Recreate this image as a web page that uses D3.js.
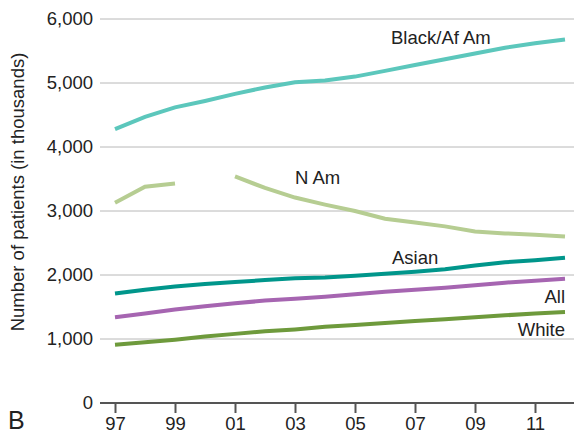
<!DOCTYPE html>
<html>
<head>
<meta charset="utf-8">
<script src="https://cdn.jsdelivr.net/npm/d3@7"></script>
<style>
  body { margin: 0; background: #fff; }
  svg { display: block; font-family: "Liberation Sans", Arial, Helvetica, sans-serif; }
</style>
</head>
<body>
<svg id="chart" width="574" height="433"></svg>
<script>
// Years 1997–2012
const years = [1997, 1998, 1999, 2000, 2001, 2002, 2003, 2004, 2005, 2006, 2007, 2008, 2009, 2010, 2011, 2012];

// Patients (thousands) by group; null = no data reported
const blackAfAm = [4280, 4470, 4620, 4720, 4830, 4930, 5010, 5040, 5100, 5190, 5280, 5370, 5460, 5550, 5620, 5680];
const nativeAm  = [3130, 3380, 3430, null, 3540, 3360, 3210, 3100, 3000, 2880, 2820, 2760, 2680, 2650, 2630, 2600];
const asian     = [1710, 1770, 1820, 1860, 1890, 1920, 1950, 1960, 1990, 2020, 2050, 2090, 2150, 2200, 2230, 2270];
const allPts    = [1340, 1400, 1460, 1510, 1560, 1600, 1630, 1660, 1700, 1740, 1770, 1800, 1840, 1880, 1910, 1940];
const white     = [ 910,  950,  990, 1040, 1080, 1120, 1150, 1190, 1220, 1250, 1280, 1310, 1340, 1370, 1400, 1420];

const yTicks = [0, 1000, 2000, 3000, 4000, 5000, 6000];
const xTicks = [1997, 1999, 2001, 2003, 2005, 2007, 2009, 2011];

const series = [
  { name: "Black/Af Am", values: blackAfAm, color: "#5cc7bc" },
  { name: "N Am",        values: nativeAm,  color: "#b6cd92" },
  { name: "Asian",       values: asian,     color: "#00968b" },
  { name: "All",         values: allPts,    color: "#a665b1" },
  { name: "White",       values: white,     color: "#6e9a3c" }
];

const FS = 18.5;
const svg = d3.select("#chart");
const x = d3.scaleLinear().domain([1997, 2012]).range([115, 565]);
const y = d3.scaleLinear().domain([0, 6000]).range([403, 19]);
const gridLeft = 100, gridRight = 574;

// Horizontal gridlines
svg.append("g").selectAll("line")
  .data(yTicks.filter(d => d > 0))
  .join("line")
  .attr("x1", gridLeft).attr("x2", gridRight)
  .attr("y1", d => y(d)).attr("y2", d => y(d))
  .attr("stroke", "#b8b8b8").attr("stroke-width", 1);

// Y tick labels
svg.append("g").selectAll("text")
  .data(yTicks)
  .join("text")
  .attr("x", 93).attr("y", d => y(d))
  .attr("dy", "0.35em")
  .attr("text-anchor", "end")
  .attr("font-size", FS)
  .attr("fill", "#222")
  .text(d => d3.format(",")(d));

// X axis
const xAxis = d3.axisBottom(x)
  .tickValues(xTicks)
  .tickSize(10)
  .tickPadding(4)
  .tickFormat(d => String(d).slice(2));
const gx = svg.append("g").attr("transform", `translate(0,${y(0)})`).call(xAxis);
gx.select(".domain").remove();
gx.selectAll(".tick line").attr("stroke", "#555").attr("stroke-width", 2);
gx.selectAll(".tick text").attr("font-size", FS).attr("fill", "#222")
  .attr("font-family", "Liberation Sans, Arial, sans-serif");
svg.append("line")
  .attr("x1", gridLeft).attr("x2", gridRight)
  .attr("y1", y(0)).attr("y2", y(0))
  .attr("stroke", "#555").attr("stroke-width", 2);

// Data lines
const line = d3.line()
  .defined(d => d.v != null)
  .x(d => x(d.year))
  .y(d => y(d.v));

svg.append("g").selectAll("path")
  .data(series)
  .join("path")
  .attr("d", s => line(years.map((yr, i) => ({ year: yr, v: s.values[i] }))))
  .attr("fill", "none")
  .attr("stroke", s => s.color)
  .attr("stroke-width", 4);

// Series labels
const labels = [
  { text: "Black/Af Am", x: 391, y: 44, anchor: "start" },
  { text: "N Am",        x: 295, y: 184, anchor: "start" },
  { text: "Asian",       x: 392, y: 264, anchor: "start" },
  { text: "All",         x: 565, y: 303, anchor: "end" },
  { text: "White",       x: 565, y: 336, anchor: "end" }
];
svg.append("g").selectAll("text")
  .data(labels)
  .join("text")
  .attr("x", d => d.x).attr("y", d => d.y)
  .attr("text-anchor", d => d.anchor)
  .attr("font-size", FS)
  .attr("fill", "#222")
  .text(d => d.text);

// Y axis title
svg.append("text")
  .attr("transform", `translate(24,192) rotate(-90)`)
  .attr("text-anchor", "middle")
  .attr("font-size", FS)
  .attr("fill", "#222")
  .text("Number of patients (in thousands)");

// Panel letter
svg.append("text")
  .attr("x", 8).attr("y", 429)
  .attr("font-size", 25)
  .attr("fill", "#222")
  .text("B");
</script>
</body>
</html>
